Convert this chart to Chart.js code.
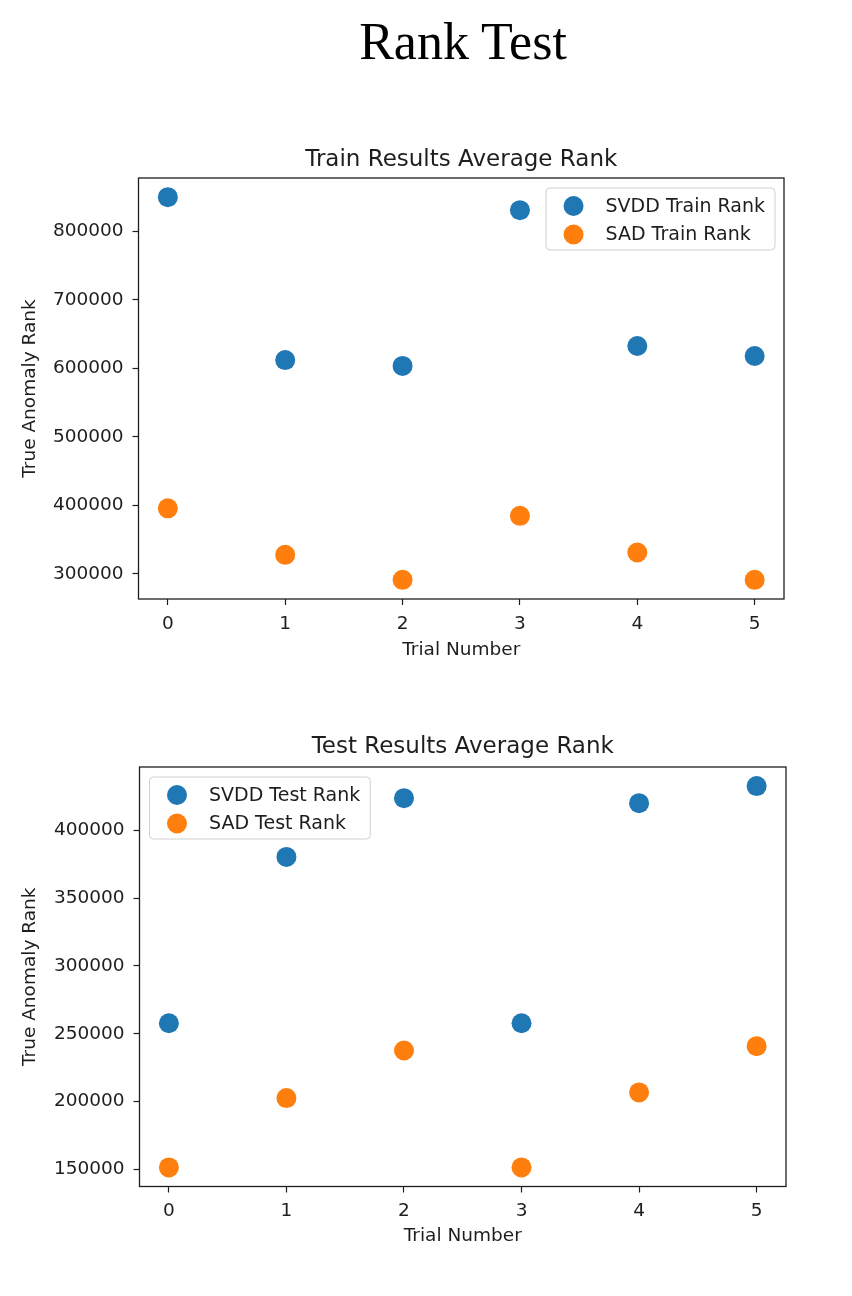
<!DOCTYPE html>
<html><head><meta charset="utf-8">
<script src="https://cdn.jsdelivr.net/npm/chart.js@4.4.0/dist/chart.umd.min.js"></script>
<style>
html,body{margin:0;padding:0;background:#fff;}
#page{position:relative;width:852px;height:1296px;overflow:hidden;background:#fff;}
#title{position:absolute;left:463px;top:14px;transform:translateX(-50%);font-family:'Liberation Serif','DejaVu Serif',serif;font-size:52px;line-height:56px;white-space:nowrap;color:#000;}
.box{position:absolute;left:0;width:852px;}
</style></head><body>
<div id="page">
<div id="title">Rank Test</div>
<div class="box" style="top:0;height:690px"><canvas id="c1"></canvas></div>
<div class="box" style="top:690px;height:606px"><canvas id="c2"></canvas></div>
</div>
<script>
// ---- data ----
const trials = [0, 1, 2, 3, 4, 5];
const svddTrain = [850000, 612000, 603500, 831000, 632500, 618000];
const sadTrain  = [395500, 327500, 291000, 384500, 331000, 291000];
const svddTest  = [257700, 380500, 423900, 257700, 420200, 432800];
const sadTest   = [151300, 202500, 237600, 151300, 206700, 240800];
const xTicks      = [0, 1, 2, 3, 4, 5];
const yTicksTrain = [300000, 400000, 500000, 600000, 700000, 800000];
const yTicksTest  = [150000, 200000, 250000, 300000, 350000, 400000];

const BLUE = '#1f77b4', ORANGE = '#ff7f0e', INK = '#1e1e1e';
const FONT = "'DejaVu Sans', 'Liberation Sans', sans-serif";

function margins(arrs) {
  const all = [].concat(...arrs);
  const lo = Math.min(...all), hi = Math.max(...all);
  const m = (hi - lo) * 0.05;
  return [lo - m, hi + m];
}

const decor = {
  id: 'decor',
  afterDraw(chart, args, o) {
    const {ctx, chartArea: a} = chart;
    ctx.save();
    ctx.strokeStyle = INK; ctx.lineWidth = 1.3;
    ctx.strokeRect(a.left, a.top, a.right - a.left, a.bottom - a.top);
    ctx.fillStyle = INK;
    ctx.font = '23px ' + FONT;
    ctx.textAlign = 'center'; ctx.textBaseline = 'middle';
    ctx.fillText(o.title, (a.left + a.right) / 2, a.top - o.titleGap);
    // legend
    ctx.font = '19px ' + FONT;
    const ds = chart.data.datasets;
    const tw = Math.max(...ds.map(d => ctx.measureText(d.label).width));
    const w = 59.5 + tw + 10, h = 62;
    const x0 = o.legendSide === 'right' ? a.right - 9 - w : a.left + 10;
    const y0 = a.top + 10;
    ctx.beginPath();
    if (ctx.roundRect) ctx.roundRect(x0, y0, w, h, 4); else ctx.rect(x0, y0, w, h);
    ctx.fillStyle = 'rgba(255,255,255,0.8)'; ctx.fill();
    ctx.strokeStyle = '#d0d0d0'; ctx.lineWidth = 1; ctx.stroke();
    ds.forEach((d, i) => {
      const cy = y0 + 18 + i * 28.5;
      ctx.beginPath(); ctx.arc(x0 + 27.5, cy, 10, 0, Math.PI * 2);
      ctx.fillStyle = d.backgroundColor; ctx.fill();
      ctx.fillStyle = INK; ctx.textAlign = 'left'; ctx.textBaseline = 'middle';
      ctx.fillText(d.label, x0 + 59.5, cy + 1);
    });
    ctx.restore();
  }
};

function makeChart(id, H, area, labels, series, yTicks, title, legendSide) {
  const [ymin, ymax] = margins(series);
  return new Chart(document.getElementById(id), {
    type: 'scatter',
    data: {
      datasets: series.map((s, i) => ({
        label: labels[i],
        data: trials.map((t, k) => ({x: t, y: s[k]})),
        backgroundColor: i === 0 ? BLUE : ORANGE,
        borderColor: i === 0 ? BLUE : ORANGE,
        borderWidth: 0,
        pointRadius: 10,
        pointHoverRadius: 10
      }))
    },
    options: {
      responsive: true,
      maintainAspectRatio: false,
      animation: false,
      events: [],
      layout: {padding: {top: area.top, right: 852 - area.right, left: 0, bottom: 0}},
      plugins: {
        legend: {display: false},
        tooltip: {enabled: false},
        decor: {title: title, titleGap: area.titleGap, legendSide: legendSide}
      },
      scales: {
        x: {
          type: 'linear', min: -0.25, max: 5.25,
          afterFit: s => { s.height = H - area.bottom; },
          afterBuildTicks: s => { s.ticks = xTicks.map(v => ({value: v})); },
          grid: {display: true, drawOnChartArea: false, drawTicks: true, tickLength: 6, tickColor: INK, tickWidth: 1.2},
          border: {display: false},
          ticks: {font: {family: FONT, size: 18.5}, color: INK, padding: 8, maxRotation: 0, callback: v => String(v)},
          title: {display: true, text: 'Trial Number', font: {family: FONT, size: 18.5}, color: INK,
                  padding: {top: 0, bottom: area.xTitlePad}}
        },
        y: {
          type: 'linear', min: ymin, max: ymax,
          afterFit: s => { s.width = area.left; },
          afterBuildTicks: s => { s.ticks = yTicks.map(v => ({value: v})); },
          grid: {display: true, drawOnChartArea: false, drawTicks: true, tickLength: 6, tickColor: INK, tickWidth: 1.2},
          border: {display: false},
          ticks: {font: {family: FONT, size: 18.5}, color: INK, padding: 9, callback: v => String(v)},
          title: {display: true, text: 'True Anomaly Rank', font: {family: FONT, size: 18.5}, color: INK,
                  padding: {top: 19, bottom: 0}}
        }
      }
    },
    plugins: [decor]
  });
}

makeChart('c1', 690, {left: 138.5, top: 178, right: 784, bottom: 599, titleGap: 18, xTitlePad: 29},
  ['SVDD Train Rank', 'SAD Train Rank'], [svddTrain, sadTrain], yTicksTrain,
  'Train Results Average Rank', 'right');
makeChart('c2', 606, {left: 139.5, top: 77, right: 786, bottom: 496.5, titleGap: 19.5, xTitlePad: 49},
  ['SVDD Test Rank', 'SAD Test Rank'], [svddTest, sadTest], yTicksTest,
  'Test Results Average Rank', 'left');
</script>
</body></html>
